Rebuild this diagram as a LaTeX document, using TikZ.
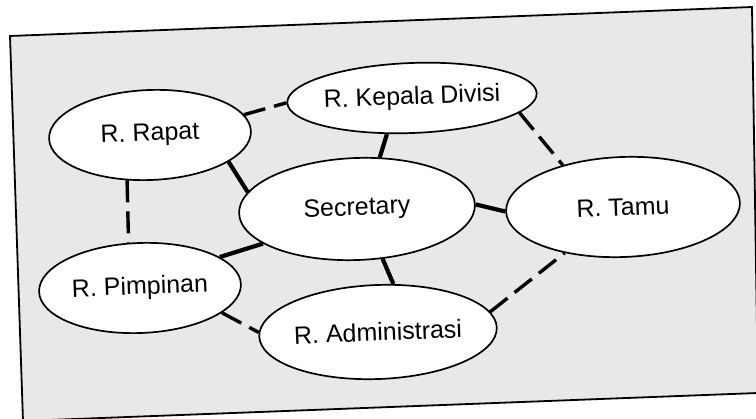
\documentclass[tikz,border=0pt]{standalone}
\usepackage{fontspec}
\setmainfont{Liberation Sans}
\usetikzlibrary{shapes.geometric}
\begin{document}
\begin{tikzpicture}[x=1pt,y=-1pt,
  room/.style={ellipse, draw, line width=1.7pt, fill=white, inner sep=0pt,
               rotate=2.2, font=\fontsize{25}{30}\selectfont},
  link/.style={line width=4.2pt},
  walk/.style={line width=3.4pt, dash pattern=on 22pt off 9pt}]
\useasboundingbox (0,0) rectangle (756,419);
% sheet with its frame
\begin{scope}
  \clip (0,0) rectangle (756,419);
  \draw[line width=1.8pt, fill=black!9] (10,36) -- (752,7) -- (758,393) -- (23,421) -- cycle;
\end{scope}
% rooms
\node[room, minimum width=232pt, minimum height=70pt] (kep) at (412,98)  {R. Kepala Divisi};
\node[room, minimum width=202pt, minimum height=90pt] (rap) at (150,135) {R. Rapat};
\node[room, minimum width=236pt, minimum height=102pt] (sec) at (357,209) {Secretary};
\node[room, minimum width=234pt, minimum height=100pt] (tam) at (623,207) {R. Tamu};
\node[room, minimum width=202pt, minimum height=90pt] (pim) at (140,288) {R. Pimpinan};
\node[room, minimum width=236pt, minimum height=94pt] (adm) at (378,332) {R. Administrasi};
% direct links to the secretary
\draw[link] (rap.-21) -- (sec.169);
\draw[link] (kep.-127) -- (sec.64);
\draw[link] (sec.0) -- (tam.180);
\draw[link] (sec.-162) -- (pim.19);
\draw[link] (sec.-65) -- (adm.70);
% indirect links between rooms
\draw[walk] (rap.10) -- (kep.180);
\draw[walk] (kep.-10) -- (tam.143);
\draw[walk] (rap.-119) -- (pim.102);
\draw[walk] (pim.-19) -- (adm.178);
\draw[walk] (adm.8) -- (tam.-144);
\end{tikzpicture}
\end{document}
